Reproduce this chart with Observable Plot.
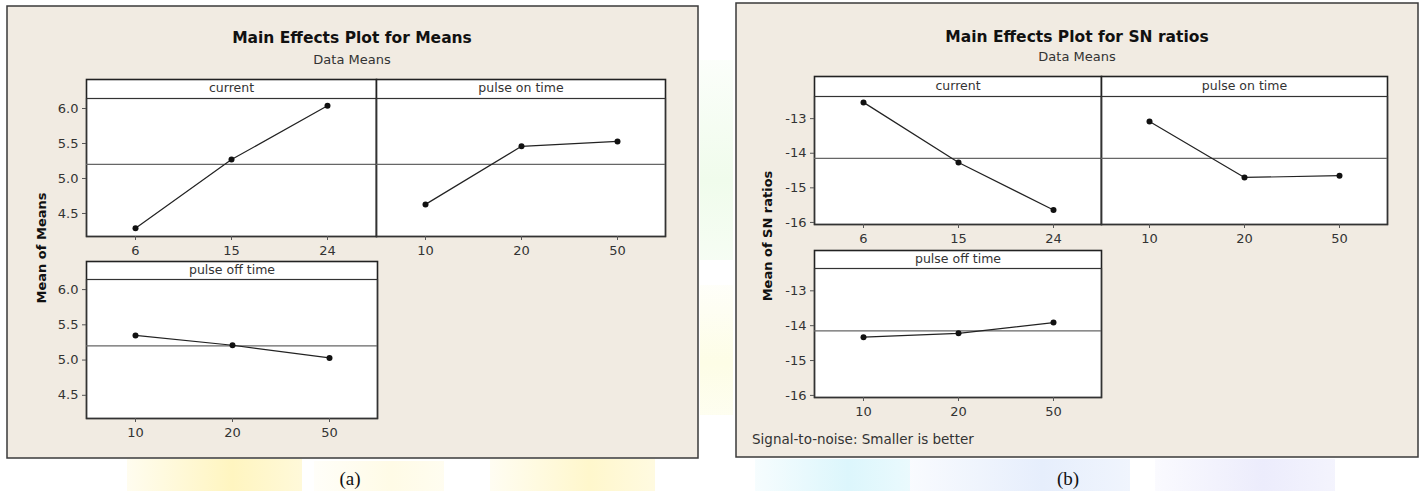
<!DOCTYPE html>
<html><head><meta charset="utf-8">
<script src="https://cdn.jsdelivr.net/npm/d3@7"></script>
<script src="https://cdn.jsdelivr.net/npm/@observablehq/plot@0.6"></script>
<style>
html,body{margin:0;padding:0;background:#fff;}
body{width:1425px;height:491px;position:relative;overflow:hidden;}
.pos{position:absolute;}
svg{overflow:visible;}
</style>
</head><body>
<svg id="bg" class="pos" style="left:0;top:0" width="1425" height="491"></svg>
<div id="facets"></div>
<script>
// ---- data ----
const factorNames = ["current", "pulse on time", "pulse off time"];
const levelsCurrent = [6, 15, 24];
const levelsPulseOn = [10, 20, 50];
const levelsPulseOff = [10, 20, 50];
const meansCurrent = [4.29, 5.27, 6.04];
const meansPulseOn = [4.63, 5.46, 5.53];
const meansPulseOff = [5.35, 5.21, 5.03];
const snCurrent = [-12.53, -14.27, -15.64];
const snPulseOn = [-13.08, -14.70, -14.65];
const snPulseOff = [-14.33, -14.22, -13.91];
const meansTicks = [4.5, 5.0, 5.5, 6.0];
const snTicks = [-16, -15, -14, -13];
const meansDomain = [4.171, 6.143];
const snDomain = [-16.06, -12.36];

const FONT = "'DejaVu Sans', Verdana, Tahoma, sans-serif";

// ---- background / static text ----
const bg = d3.select("#bg");
const defs = bg.append("defs");
function grad(id, c, vertical) {
  const g = defs.append("linearGradient").attr("id", id)
    .attr("x1", 0).attr("y1", 0).attr("x2", vertical ? 0 : 1).attr("y2", vertical ? 1 : 0);
  g.append("stop").attr("offset", "0%").attr("stop-color", c).attr("stop-opacity", 0.25);
  g.append("stop").attr("offset", "60%").attr("stop-color", c).attr("stop-opacity", 1);
  g.append("stop").attr("offset", "100%").attr("stop-color", c).attr("stop-opacity", 0.6);
}
const wm = [[127,459,175,32,"#fff5c0"],[314,461,130,30,"#fffbe6"],[490,459,165,32,"#fff7cc"],
 [700,60,33,200,"#f0fcec"],[700,285,33,130,"#fdfde6"],
 [755,459,155,32,"#dcf6fc"],[910,459,220,32,"#e6eefc"],[1155,459,180,32,"#ececfc"]];
wm.forEach(([x,y,w,h,c],i)=>{
  grad("g"+i, c, h > w);
  bg.append("rect").attr("x",x).attr("y",y).attr("width",w).attr("height",h).attr("fill",`url(#g${i})`);
});
// panels
bg.append("rect").attr("x",7).attr("y",6).attr("width",691).attr("height",452).attr("fill","#f1ebe2").attr("stroke","#3a3a3a").attr("stroke-width",1.5);
bg.append("rect").attr("x",736).attr("y",3).attr("width",682).attr("height",454).attr("fill","#f1ebe2").attr("stroke","#3a3a3a").attr("stroke-width",1.5);
function txt(x,y,s,opts={}) {
  const t = bg.append("text").attr("x",x).attr("y",y).text(s)
    .attr("font-family",opts.family||FONT).attr("font-size",opts.size||12)
    .attr("font-weight",opts.weight||"normal").attr("fill",opts.fill||"#222")
    .attr("text-anchor",opts.anchor||"middle");
  if (opts.rotate) t.attr("transform",`rotate(-90 ${x} ${y})`);
  return t;
}
txt(352,43,"Main Effects Plot for Means",{size:15.5,weight:"bold",fill:"#111"});
txt(352,64,"Data Means",{size:13,fill:"#333"});
txt(1077,42,"Main Effects Plot for SN ratios",{size:15.5,weight:"bold",fill:"#111"});
txt(1077,61,"Data Means",{size:13,fill:"#333"});
txt(46,248,"Mean of Means",{size:13,weight:"bold",rotate:true,fill:"#111"});
txt(772,236,"Mean of SN ratios",{size:13,weight:"bold",rotate:true,fill:"#111"});
txt(752,444,"Signal-to-noise: Smaller is better",{size:13.5,anchor:"start",fill:"#333"});
txt(350,485,"(a)",{size:19,family:"'Liberation Serif','Times New Roman',serif",fill:"#111"});
txt(1068,485,"(b)",{size:19,family:"'Liberation Serif','Times New Roman',serif",fill:"#111"});

// ---- facets ----
function facet({label, levels, values, yDomain, yTicks, yFmt, showY, left, top, W, H, stripH, ref}) {
  const mL = showY ? 50 : 0, mB = 28;
  const data = levels.map((l,i)=>({level:String(l), value:values[i]}));
  const chart = Plot.plot({
    width: mL + W, height: stripH + H + mB,
    marginLeft: mL, marginRight: 0, marginTop: stripH, marginBottom: mB,
    style: {background:"transparent", fontSize:"13px", fontFamily:FONT, color:"#333", overflow:"visible"},
    x: {type:"point", domain: levels.map(String), padding:0.5, axis:null},
    y: {domain: yDomain, axis:null},
    marks: [
      Plot.frame({fill:"white", stroke:"#222", strokeWidth:1.6, insetTop:-stripH}),
      Plot.frame({stroke:"#333", strokeWidth:1.2}),
      Plot.ruleY([ref], {stroke:"#666", strokeWidth:1.1}),
      Plot.line(data, {x:"level", y:"value", stroke:"#222", strokeWidth:1.2}),
      Plot.dot(data, {x:"level", y:"value", r:3, fill:"#111", stroke:"none"}),
      Plot.text([label], {frameAnchor:"top", dy:-stripH/2 - 1, text:d=>d, fontSize:12.5, fill:"#333", lineAnchor:"middle"}),
      Plot.axisX({tickSize:4, tickPadding:5, label:null, fontSize:13, stroke:"#555"}),
      showY ? Plot.axisY({ticks:yTicks, tickFormat:yFmt, tickSize:4, tickPadding:4, label:null, fontSize:13, stroke:"#555"}) : null
    ]
  });
  chart.classList.add("pos");
  chart.style.left = (left - mL) + "px";
  chart.style.top = (top - stripH) + "px";
  document.getElementById("facets").appendChild(chart);
}
const meanRef = d3.mean([...meansCurrent, ...meansPulseOn, ...meansPulseOff]);
const snRef = d3.mean([...snCurrent, ...snPulseOn, ...snPulseOff]);
const fmtMeans = d3.format(".1f");
const fmtSn = d => String(d);

// panel (a)
facet({label:factorNames[0], levels:levelsCurrent, values:meansCurrent, yDomain:meansDomain, yTicks:meansTicks, yFmt:fmtMeans, showY:true, left:86, top:98, W:290, H:138, stripH:19, ref:meanRef});
facet({label:factorNames[1], levels:levelsPulseOn, values:meansPulseOn, yDomain:meansDomain, yTicks:meansTicks, yFmt:fmtMeans, showY:false, left:376, top:98, W:289, H:138, stripH:19, ref:meanRef});
facet({label:factorNames[2], levels:levelsPulseOff, values:meansPulseOff, yDomain:meansDomain, yTicks:meansTicks, yFmt:fmtMeans, showY:true, left:86, top:279, W:291, H:139, stripH:18, ref:meanRef});
// panel (b)
facet({label:factorNames[0], levels:levelsCurrent, values:snCurrent, yDomain:snDomain, yTicks:snTicks, yFmt:fmtSn, showY:true, left:814, top:96, W:287, H:128, stripH:20, ref:snRef});
facet({label:factorNames[1], levels:levelsPulseOn, values:snPulseOn, yDomain:snDomain, yTicks:snTicks, yFmt:fmtSn, showY:false, left:1101, top:96, W:286, H:128, stripH:20, ref:snRef});
facet({label:factorNames[2], levels:levelsPulseOff, values:snPulseOff, yDomain:snDomain, yTicks:snTicks, yFmt:fmtSn, showY:true, left:814, top:268, W:287, H:129, stripH:18, ref:snRef});
</script>
</body></html>
